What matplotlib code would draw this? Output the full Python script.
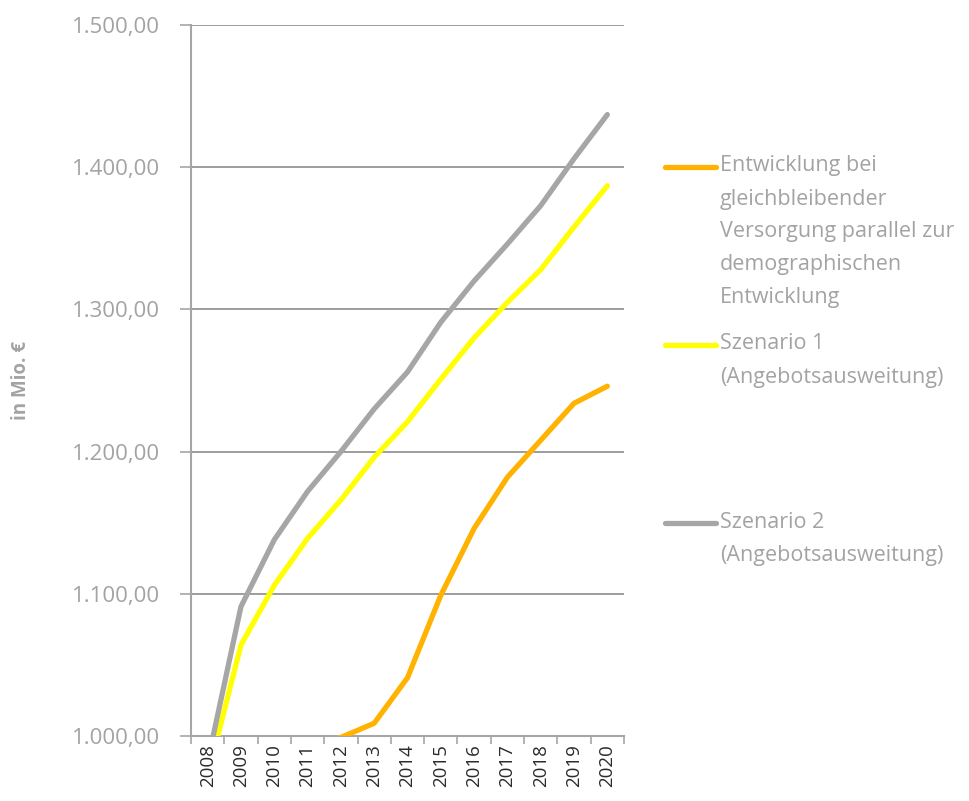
import matplotlib

matplotlib.use("Agg")
import matplotlib.pyplot as plt  # noqa: E402
import numpy as np  # noqa: E402
from matplotlib.lines import Line2D  # noqa: E402
from matplotlib.ticker import FuncFormatter  # noqa: E402

plt.rcParams["font.family"] = ["Open Sans", "DejaVu Sans"]

# --- data (in Mio. EUR) ---
years = ["2008", "2009", "2010", "2011", "2012", "2013", "2014",
         "2015", "2016", "2017", "2018", "2019", "2020"]
demografie = [977, 983, 988, 993, 999, 1009, 1041, 1099, 1146, 1182, 1208, 1234, 1246]
szenario1 = [972, 1064, 1106, 1139, 1166, 1196, 1221, 1251, 1280, 1305, 1328, 1358, 1387]
szenario2 = [982, 1091, 1138, 1172, 1200, 1230, 1256, 1291, 1320, 1346, 1373, 1406, 1437]

labels = ["Entwicklung bei\ngleichbleibender\nVersorgung parallel zur\ndemographischen\nEntwicklung",
          "Szenario 1\n(Angebotsausweitung)",
          "Szenario 2\n(Angebotsausweitung)"]
colors = ["#FFB300", "#FFFF00", "#A6A6A6"]
series = [demografie, szenario1, szenario2]

TXT = "#A3A3A3"

fig = plt.figure(figsize=(9.7, 8.01), dpi=100)
ax = fig.add_axes([0.1969, 0.0811, 0.4464, 0.8877])

x = np.arange(len(years))
for vals, col in zip(series, colors):
    ax.plot(x, vals, color=col, lw=3.8, solid_capstyle="round", zorder=3)

ax.set_xlim(-0.5, len(years) - 0.5)
ax.set_ylim(1000, 1500)
ax.set_yticks(np.arange(1000, 1501, 100))
ax.yaxis.set_major_formatter(FuncFormatter(
    lambda v, _: f"{v:,.2f}".replace(",", "X").replace(".", ",").replace("X", ".")))
ax.grid(axis="y", color="#8C8C8C", lw=1.2, zorder=1)

ax.set_xticks(x)
ax.set_xticklabels(years, rotation=90, fontsize=13.5, color="#2B2B2B")
ax.set_xticks(np.arange(-0.5, len(years), 1.0), minor=True)
ax.tick_params(axis="x", which="major", length=0, pad=6)
ax.tick_params(axis="x", which="minor", length=6, width=1.2, color="#A6A6A6")
ax.tick_params(axis="y", length=8, width=1.2, color="#A6A6A6",
               labelsize=16, labelcolor=TXT, pad=14)

for side in ("top", "right"):
    ax.spines[side].set_visible(False)
for side in ("left", "bottom"):
    ax.spines[side].set_color("#A6A6A6")
    ax.spines[side].set_linewidth(1.5)

fig.text(0.022, 0.525, "in Mio. €", rotation=90, ha="center", va="center",
         fontsize=13.5, fontweight="bold", color=TXT)

# --- legend drawn by hand: sample aligned with first text line ---
first_line_px = [166, 344, 522]
step_px = 33
W, H = 970, 801
for lab, col, y0 in zip(labels, colors, first_line_px):
    fig.add_artist(Line2D([665 / W, 716 / W], [1 - (y0 + 1) / H] * 2,
                          color=col, lw=3.8, solid_capstyle="round",
                          transform=fig.transFigure))
    for i, line in enumerate(lab.split("\n")):
        fig.text(720 / W, 1 - (y0 + i * step_px) / H, line, ha="left",
                 va="center", fontsize=15.5, color=TXT)

fig.savefig("out.png", dpi=100)
